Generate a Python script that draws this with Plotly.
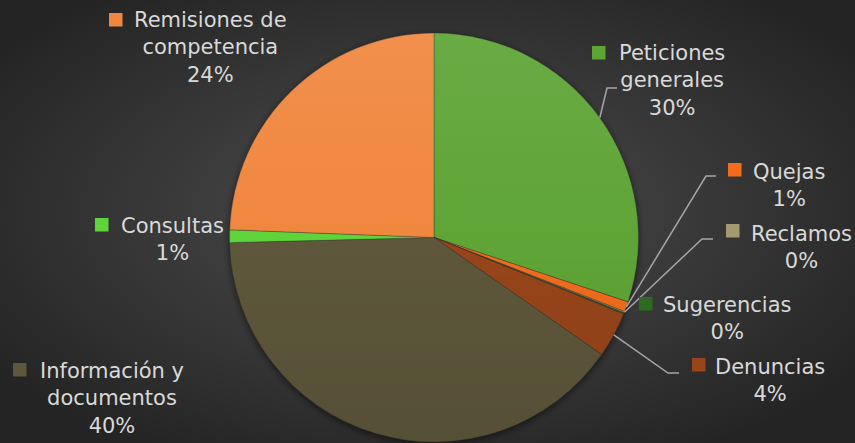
import base64
import math
import plotly.graph_objects as go

# ---- data ----
categories = ["Peticiones generales", "Quejas", "Reclamos", "Sugerencias",
              "Denuncias", "Información y documentos", "Consultas",
              "Remisiones de competencia"]
values = [30.1, 0.8, 0.1, 0.1, 3.6, 39.9, 1.0, 24.4]
label_lines = [["Peticiones", "generales"], ["Quejas"], ["Reclamos"], ["Sugerencias"],
               ["Denuncias"], ["Información y", "documentos"], ["Consultas"],
               ["Remisiones de", "competencia"]]
colors = ["#5fa536", "#f26c1c", "#a39a72", "#2f6a22", "#98451a",
          "#5e573b", "#5ed43a", "#f0873f"]

W, H = 855, 443
CX, CY, R = 434, 237.5, 204.5
FONT = "DejaVu Sans"
FS = 21
TXT = "#d9d9d9"

# label layout (pixel positions): center x, center y of text block
label_pos = {
    "Peticiones generales": (672, 80),
    "Quejas": (789, 185),
    "Reclamos": (801, 247),
    "Sugerencias": (727, 318),
    "Denuncias": (770, 380),
    "Información y documentos": (112, 398),
    "Consultas": (172, 239),
    "Remisiones de competencia": (210, 47),
}
# legend key squares: left x, top y
key_pos = {
    "Peticiones generales": (592, 46),
    "Quejas": (728, 163),
    "Reclamos": (726, 224),
    "Sugerencias": (639, 297),
    "Denuncias": (692, 358),
    "Información y documentos": (13, 363),
    "Consultas": (95, 218),
    "Remisiones de competencia": (109, 13),
}
# leader lines: elbow and end points (pixel), start computed from slice angle
leaders = {
    "Peticiones generales": [(607, 88), (617, 88)],
    "Quejas": [(706, 176), (716, 176)],
    "Reclamos": [(702, 239), (713, 239)],
    "Denuncias": [(668, 373), (679, 373)],
}

total = sum(values)

fig = go.Figure()
fig.add_trace(go.Pie(
    labels=categories, values=values, sort=False, direction="clockwise",
    rotation=0, textinfo="none", showlegend=False,
    marker=dict(colors=colors, line=dict(color="rgba(50,50,50,0.5)", width=0.7)),
    domain=dict(x=[(CX - R) / W, (CX + R) / W], y=[1 - (CY + R) / H, 1 - (CY - R) / H]),
))

shapes = []
annotations = []
cum = 0.0
for cat, val, lines, col in zip(categories, values, label_lines, colors):
    mid = (cum + val / 2) / total * 2 * math.pi
    cum += val
    pct = round(val / total * 100)
    lx, ly = label_pos[cat]
    text = "<br>".join(lines + [f"{pct}%"])
    annotations.append(dict(x=lx, y=ly, xref="x", yref="y", text=text, showarrow=False,
                            xanchor="center", yanchor="middle", align="center",
                            font=dict(family=FONT, size=FS, color=TXT)))
    kx, ky = key_pos[cat]
    shapes.append(dict(type="rect", xref="x", yref="y", x0=kx, x1=kx + 13.5,
                       y0=ky, y1=ky + 13.5, fillcolor=col, line=dict(width=0)))
    if cat in leaders:
        sx = CX + R * math.sin(mid)
        sy = CY - R * math.cos(mid)
        pts = [(sx, sy)] + leaders[cat]
        path = "M " + " L ".join(f"{x:.1f},{y:.1f}" for x, y in pts)
        shapes.append(dict(type="path", xref="x", yref="y", path=path,
                           line=dict(color="#a6a6a6", width=1.5)))

# background: radial gradient + soft shadow under the pie
bg_svg = (f'<svg xmlns="http://www.w3.org/2000/svg" width="{W}" height="{H}" '
          f'viewBox="0 0 {W} {H}" preserveAspectRatio="none">'
          '<defs><radialGradient id="g" cx="50%" cy="48%" r="62%">'
          '<stop offset="0" stop-color="#4e4e4e"/>'
          '<stop offset="1" stop-color="#242424"/></radialGradient>'
          '<filter id="b" x="-20%" y="-20%" width="140%" height="140%">'
          '<feGaussianBlur stdDeviation="3"/></filter></defs>'
          f'<rect width="{W}" height="{H}" fill="url(#g)"/>'
          f'<circle cx="{CX}" cy="{CY + 2}" r="{R + 1}" fill="#000" fill-opacity="0.45" filter="url(#b)"/>'
          '</svg>')
# subtle top-light / bottom-dark shading over the pie
ov_svg = (f'<svg xmlns="http://www.w3.org/2000/svg" width="{W}" height="{H}" '
          f'viewBox="0 0 {W} {H}" preserveAspectRatio="none">'
          '<defs><linearGradient id="l" x1="0" y1="0" x2="0" y2="1">'
          '<stop offset="0" stop-color="#fff" stop-opacity="0.07"/>'
          '<stop offset="0.5" stop-color="#fff" stop-opacity="0"/>'
          '<stop offset="0.5" stop-color="#000" stop-opacity="0"/>'
          '<stop offset="1" stop-color="#000" stop-opacity="0.09"/>'
          '</linearGradient></defs>'
          f'<circle cx="{CX}" cy="{CY}" r="{R}" fill="url(#l)"/></svg>')


def uri(s):
    return "data:image/svg+xml;base64," + base64.b64encode(s.encode()).decode()


fig.update_layout(
    width=W, height=H, margin=dict(l=0, r=0, t=0, b=0),
    paper_bgcolor="#383838", plot_bgcolor="rgba(0,0,0,0)",
    xaxis=dict(range=[0, W], visible=False, fixedrange=True),
    yaxis=dict(range=[H, 0], visible=False, fixedrange=True),
    shapes=shapes, annotations=annotations,
    images=[dict(source=uri(bg_svg), xref="paper", yref="paper", x=0, y=1, sizex=1, sizey=1,
                 sizing="stretch", layer="below", xanchor="left", yanchor="top"),
            dict(source=uri(ov_svg), xref="paper", yref="paper", x=0, y=1, sizex=1, sizey=1,
                 sizing="stretch", layer="above", xanchor="left", yanchor="top")],
)

fig.write_html("out.html", config={"displayModeBar": False},
               post_script="document.body.style.margin='0';"
                           "document.body.style.overflow='hidden';")
